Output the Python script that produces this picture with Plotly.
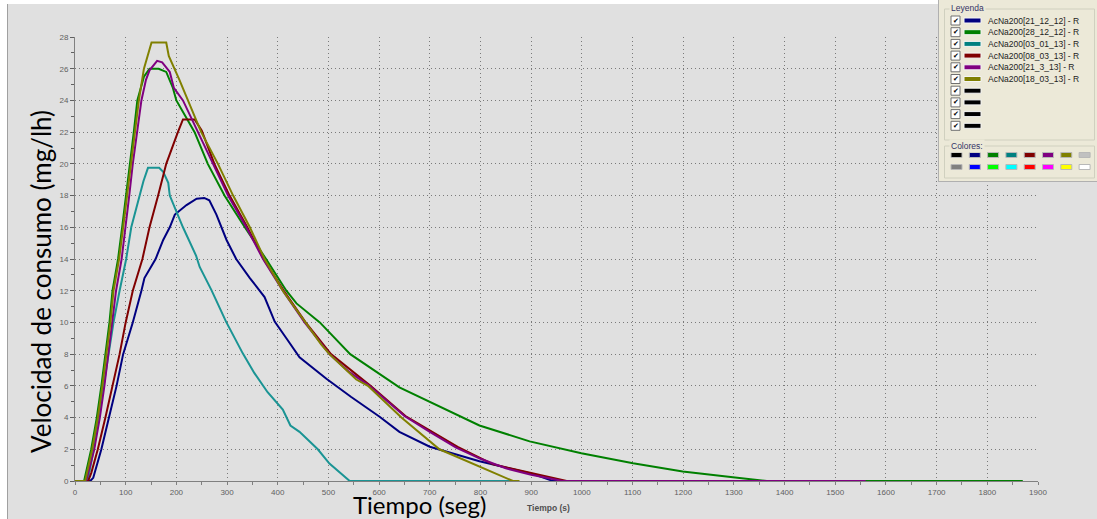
import plotly.graph_objects as go

# ---------------- data ----------------
series_names = ["AcNa200[21_12_12] - R", "AcNa200[28_12_12] - R", "AcNa200[03_01_13] - R",
                "AcNa200[08_03_13] - R", "AcNa200[21_3_13] - R", "AcNa200[18_03_13] - R"]
series_colors = ["#000080", "#008000", "#1a9494", "#800000", "#800080", "#808000"]

t_blue = [0, 30, 36, 52, 67, 82, 95, 114, 131, 137, 159, 174, 187, 197, 220, 240, 255, 265, 279, 289,
          299, 318, 345, 374, 394, 417, 443, 496, 545, 601, 640, 700, 798, 903, 943, 953]
v_blue = [0, 0, 0.2, 2, 4, 6, 8, 10, 12, 12.8, 14, 15.2, 16, 16.8, 17.4, 17.8, 17.85, 17.7, 16.8, 16,
          15.2, 14, 12.8, 11.6, 10.05, 9.0, 7.8, 6.45, 5.3, 4.05, 3.1, 2.16, 1.25, 0.45, 0, 0]

t_green = [0, 18, 32, 43, 52, 60, 68, 74, 85, 93, 101, 108, 116, 123, 136, 147, 165, 180, 193, 200,
           236, 262, 295, 335, 377, 417, 437, 483, 543, 640, 798, 897, 999, 1101, 1199, 1298, 1344, 1365, 1870]
v_green = [0, 0, 2, 4, 6, 8, 10, 12, 14, 16, 18, 20, 22, 24, 25.5, 26, 26, 25.8, 24.8, 24,
           22, 20, 18, 16, 14, 12, 11.2, 10, 8, 5.9, 3.5, 2.5, 1.75, 1.12, 0.6, 0.23, 0.06, 0, 0]

t_teal = [0, 25, 37, 47, 57, 67, 76, 88, 101, 111, 128, 135, 144, 166, 174, 184, 187, 213, 239, 246,
          269, 298, 331, 354, 380, 410, 425, 443, 479, 502, 542, 870]
v_teal = [0, 0, 2, 4, 6, 8, 10, 12, 14, 16, 18, 18.9, 19.75, 19.75, 19.5, 18.8, 18, 16, 14.2, 13.5,
          12.05, 10.05, 8.05, 6.8, 5.6, 4.5, 3.5, 3.1, 2, 1.1, 0, 0]

t_red = [0, 26, 32, 45, 60, 74, 88, 100, 114, 133, 147, 164, 180, 203, 213, 236, 250, 275, 305, 340,
         372, 412, 455, 505, 583, 652, 755, 825, 900, 970, 985]
v_red = [0, 0, 0.5, 2, 4, 6, 8, 10, 12, 14, 16, 18, 20, 22, 22.8, 22.8, 22.1, 20, 18, 16,
         14, 12, 10, 8, 6, 4.1, 2.15, 1.05, 0.5, 0, 0]

t_purple = [0, 22, 38, 49, 58, 66, 74, 81, 92, 100, 107, 114, 122, 131, 140, 147, 162, 172, 187, 195,
            213, 243, 272, 302, 338, 371, 410, 453, 502, 540, 581, 650, 700, 752, 800, 850, 900, 962, 1560]
v_purple = [0, 0, 2, 4, 6, 8, 10, 12, 14, 16, 18, 20, 22, 24, 25.3, 25.9, 26.5, 26.4, 25.8, 24.8,
            24, 22, 20, 18, 16, 14, 12, 10, 8, 6.9, 6, 4.1, 3.1, 2.1, 1.4, 0.8, 0.4, 0, 0]

t_olive = [0, 20, 34, 45, 54, 62, 70, 76, 87, 95, 103, 110, 118, 126, 136, 151, 180, 185, 206, 223,
           249, 282, 312, 345, 374, 410, 430, 456, 486, 502, 555, 578, 644, 719, 792, 864, 877]
v_olive = [0, 0, 2, 4, 6, 8, 10, 12, 14, 16, 18, 20, 22, 24, 26, 27.65, 27.65, 26.8, 25.3, 24,
           22, 20, 18, 16, 14, 12, 11.1, 10, 8.6, 8, 6.4, 6, 4, 2, 1, 0, 0]

x_ticks = list(range(0, 2000, 100))
y_ticks = list(range(0, 30, 2))
palette_row1 = ["#000000", "#000080", "#008000", "#008080", "#800000", "#800080", "#808000", "#c0c0c0"]
palette_row2 = ["#808080", "#0000ff", "#00ff00", "#00ffff", "#ff0000", "#ff00ff", "#ffff00", "#ffffff"]

# ---------------- layout geometry ----------------
WIDTH, HEIGHT = 1097, 519
L, R, T, B = 75, 59, 37, 38
W = WIDTH - L - R
H = HEIGHT - T - B


def px(x):
    return (x - L) / W


def py(y):
    return (HEIGHT - B - y) / H


fig = go.Figure()
series = [(t_blue, v_blue), (t_green, v_green), (t_teal, v_teal),
          (t_red, v_red), (t_purple, v_purple), (t_olive, v_olive)]
for (tt, vv), name, col in zip(series, series_names, series_colors):
    fig.add_trace(go.Scatter(x=tt, y=vv, mode="lines", name=name,
                             line=dict(color=col, width=2), showlegend=False))

shapes = []
annots = []

# white strips at left/top edges
shapes.append(dict(type="rect", xref="paper", yref="paper", x0=px(0), x1=px(7), y0=py(519), y1=py(0),
                   fillcolor="#ffffff", line=dict(width=0), layer="below"))
shapes.append(dict(type="rect", xref="paper", yref="paper", x0=px(0), x1=px(1097), y0=py(4), y1=py(0),
                   fillcolor="#ffffff", line=dict(width=0), layer="below"))
shapes.append(dict(type="line", xref="paper", yref="paper", x0=px(7.5), x1=px(7.5), y0=py(519), y1=py(4),
                   line=dict(color="#a0a0a0", width=1)))

# legend panel
shapes.append(dict(type="rect", xref="paper", yref="paper", x0=px(938), x1=px(1097), y0=py(182), y1=py(0),
                   fillcolor="#ece9d8", line=dict(width=0)))
shapes.append(dict(type="line", xref="paper", yref="paper", x0=px(938.5), x1=px(938.5), y0=py(182), y1=py(0),
                   line=dict(color="#b0b0b0", width=1)))
shapes.append(dict(type="line", xref="paper", yref="paper", x0=px(938), x1=px(1097), y0=py(181.5), y1=py(181.5),
                   line=dict(color="#b0b0b0", width=1)))
# group boxes
shapes.append(dict(type="rect", xref="paper", yref="paper", x0=px(944.5), x1=px(1094.5), y0=py(140), y1=py(9),
                   line=dict(color="#d0d0bf", width=1)))
shapes.append(dict(type="rect", xref="paper", yref="paper", x0=px(944.5), x1=px(1094.5), y0=py(178), y1=py(146),
                   line=dict(color="#d0d0bf", width=1)))
annots.append(dict(xref="paper", yref="paper", x=px(949), y=py(8.5), xanchor="left", yanchor="middle",
                   text="Leyenda", showarrow=False, bgcolor="#ece9d8",
                   font=dict(family="Liberation Sans", size=8.5, color="#333366")))
annots.append(dict(xref="paper", yref="paper", x=px(949), y=py(145.5), xanchor="left", yanchor="middle",
                   text="Colores:", showarrow=False, bgcolor="#ece9d8",
                   font=dict(family="Liberation Sans", size=8.5, color="#333366")))

row_y = [20.5 + 11.7 * i for i in range(10)]
for i, yc in enumerate(row_y):
    col = series_colors[i] if i < len(series_colors) else "#000000"
    if i == 2:
        col = "#008080"
    shapes.append(dict(type="rect", xref="paper", yref="paper", x0=px(951), x1=px(960), y0=py(yc + 4.5), y1=py(yc - 4.5),
                       fillcolor="#ffffff", line=dict(color="#707070", width=1)))
    annots.append(dict(xref="paper", yref="paper", x=px(955.5), y=py(yc), xanchor="center", yanchor="middle",
                       text="✔", showarrow=False, font=dict(family="DejaVu Sans", size=7, color="#000000")))
    shapes.append(dict(type="rect", xref="paper", yref="paper", x0=px(964), x1=px(981), y0=py(yc + 2.5), y1=py(yc - 2.5),
                       fillcolor=col, line=dict(color="#f4f4f4", width=1)))
    if i < len(series_names):
        annots.append(dict(xref="paper", yref="paper", x=px(986), y=py(yc), xanchor="left", yanchor="middle",
                           text=series_names[i], showarrow=False,
                           font=dict(family="Liberation Sans", size=8.5, color="#222222")))

for r, (row, yc) in enumerate([(palette_row1, 155), (palette_row2, 167)]):
    for j, c in enumerate(row):
        x0 = 951 + 18.3 * j
        shapes.append(dict(type="rect", xref="paper", yref="paper", x0=px(x0), x1=px(x0 + 11), y0=py(yc + 2.5), y1=py(yc - 2.5),
                           fillcolor=c, line=dict(color="#b8b8b8", width=1)))

# titles
annots.append(dict(xref="paper", yref="paper", x=px(41), y=py(282), xanchor="center", yanchor="middle",
                   text="Velocidad de consumo (mg/lh)", textangle=-90, showarrow=False,
                   font=dict(family="Lato", size=26, color="#000000")))
annots.append(dict(xref="paper", yref="paper", x=px(419), y=py(505), xanchor="center", yanchor="middle",
                   text="Tiempo (seg)", showarrow=False, borderpad=0,
                   font=dict(family="Lato", size=24, color="#000000")))
annots.append(dict(xref="paper", yref="paper", x=px(548), y=py(508), xanchor="center", yanchor="middle",
                   text="<b>Tiempo (s)</b>", showarrow=False,
                   font=dict(family="Liberation Sans", size=8.5, color="#505050")))

axis_font = dict(family="Liberation Sans", size=8, color="#606060")
fig.update_layout(
    width=WIDTH, height=HEIGHT,
    margin=dict(l=L, r=R, t=T, b=B, pad=0),
    paper_bgcolor="#e0e0e0", plot_bgcolor="#e0e0e0",
    shapes=shapes, annotations=annots,
    xaxis=dict(range=[0, 1900], tickvals=x_ticks, ticktext=[str(v) for v in x_ticks],
               showgrid=True, gridcolor="#7a7a7a", griddash="1px,3px", gridwidth=1,
               showline=True, linecolor="#808080", linewidth=1, zeroline=False,
               ticks="outside", ticklen=3, tickcolor="#808080", tickfont=axis_font,
               minor=dict(dtick=50, ticks="outside", ticklen=3, tickcolor="#808080", showgrid=False)),
    yaxis=dict(range=[0, 28], tickvals=y_ticks, ticktext=[str(v) for v in y_ticks],
               showgrid=True, gridcolor="#7a7a7a", griddash="1px,3px", gridwidth=1,
               showline=True, linecolor="#808080", linewidth=1, zeroline=False,
               ticks="outside", ticklen=4, tickcolor="#606060", tickfont=axis_font,
               minor=dict(dtick=1, ticks="outside", ticklen=3, tickcolor="#606060", showgrid=False)),
)

fig.write_html("out.html")
